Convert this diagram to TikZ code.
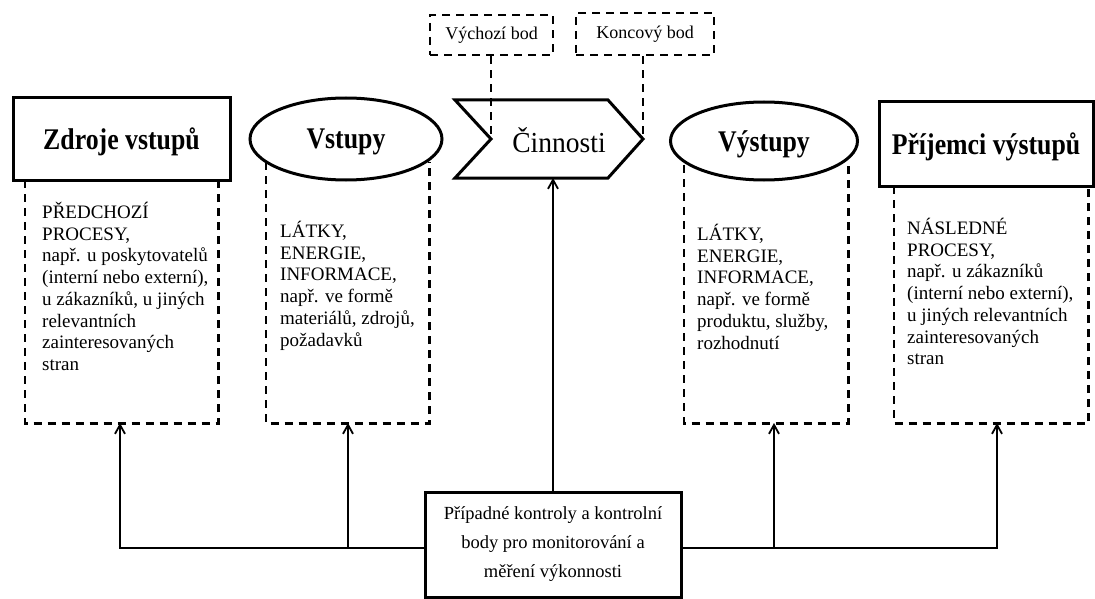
\documentclass[tikz,border=0pt]{standalone}
\usepackage{fontspec}
\setmainfont{Liberation Serif}
\newfontfamily\headfont[FakeStretch=0.86]{Liberation Serif}
\newfontfamily\actfont[FakeStretch=0.95]{Liberation Serif}
\usetikzlibrary{arrows.meta,shapes.geometric}

\begin{document}
\begin{tikzpicture}[x=1pt,y=-1pt,
  heavy/.style={line width=3pt},
  headtext/.style={font=\headfont\bfseries\fontsize{30}{34}\selectfont,text depth=0pt},
  solidbox/.style={draw,heavy,rectangle,inner sep=0pt,headtext},
  oval/.style={draw,heavy,ellipse,inner sep=0pt,headtext},
  dashbox/.style={line width=2.4pt,dash pattern=on 8pt off 6pt},
  tagbox/.style={draw,dashbox,rectangle,inner sep=0pt,font=\fontsize{18}{21}\selectfont},
  region/.style={rectangle,inner sep=0pt},
  bodytext/.style={anchor=north west,inner sep=0pt,align=left,font=\fontsize{19}{21.7}\selectfont},
  link/.style={line width=2pt},
  arr/.style={link,-{Straight Barb[length=9pt,width=10pt,line width=1.8pt]}}
]
\useasboundingbox (0,0) rectangle (1095,599);

% top headers
\node[solidbox,minimum width=217,minimum height=82] (src) at (121.5,139) {Zdroje vstupů};
\node[oval,minimum width=192,minimum height=82] (in) at (346,139) {Vstupy};
\node[oval,minimum width=187,minimum height=78] (out) at (764,141) {Výstupy};
\node[solidbox,minimum width=214,minimum height=84] (rcv) at (986,144) {Příjemci výstupů};

% activity chevron
\coordinate (c1) at (455,100);
\coordinate (c2) at (608,100);
\coordinate (tip) at (643,139);
\coordinate (c4) at (608,178);
\coordinate (c5) at (455,178);
\coordinate (notch) at (491,139);
\draw[heavy,line join=miter] (c1) -- (c2) -- (tip) -- (c4) -- (c5) -- (notch) -- cycle;
\node[font=\actfont\fontsize{29}{32}\selectfont] (act) at (559,140) {Činnosti};

% start / end point tags
\node[tagbox,minimum width=123,minimum height=40] (start) at (491.5,35) {Výchozí bod};
\node[tagbox,minimum width=138,minimum height=42] (end) at (645,34) {Koncový bod};
\draw[dashbox] (notch |- start.south) -- (notch);
\draw[dashbox] (tip |- end.south) -- (tip);

% dashed detail regions under the headers
\node[region,minimum width=193,minimum height=243,anchor=north west] (d1) at (25,180) {};
\node[region,minimum width=163,minimum height=261,anchor=north west] (d2) at (266,162) {};
\node[region,minimum width=164,minimum height=258,anchor=north west] (d3) at (684,165) {};
\node[region,minimum width=194,minimum height=237,anchor=north west] (d4) at (894,186) {};
\foreach \r in {d1,d2,d3,d4}
  \draw[dashbox] (\r.north west) -- (\r.south west) -- (\r.south east) -- (\r.north east);

\node[bodytext] (t1) at (42,202) {PŘEDCHOZÍ\\PROCESY,\\např. u poskytovatelů\\(interní nebo externí),\\u zákazníků, u jiných\\relevantních\\zainteresovaných\\stran};
\node[bodytext] (t2) at (280,221) {LÁTKY,\\ENERGIE,\\INFORMACE,\\např. ve formě\\materiálů, zdrojů,\\požadavků};
\node[bodytext] (t3) at (697,224) {LÁTKY,\\ENERGIE,\\INFORMACE,\\např. ve formě\\produktu, služby,\\rozhodnutí};
\node[bodytext] (t4) at (907,218) {NÁSLEDNÉ\\PROCESY,\\např. u zákazníků\\(interní nebo externí),\\u jiných relevantních\\zainteresovaných\\stran};

% control box and its connectors
\node[draw,heavy,rectangle,inner sep=0pt,minimum width=256,minimum height=105,align=center,
      font=\fontsize{18.5}{29}\selectfont] (ctrl) at (553,544.5)
  {Případné kontroly a kontrolní\\body pro monitorování a\\měření výkonnosti};

\coordinate (a1) at (120,423);
\coordinate (a2) at (348,423);
\coordinate (a3) at (774,423);
\coordinate (a4) at (997,423);
\coordinate (j2) at (348,548);
\coordinate (j3) at (774,548);

\draw[arr] (ctrl.west |- j2) -- (j2) -| (a1);
\draw[arr] (j2) -- (a2);
\draw[arr] (ctrl.east |- j3) -- (j3) -| (a4);
\draw[arr] (j3) -- (a3);
\draw[arr] (ctrl.north) -- (ctrl.north |- c5);
\end{tikzpicture}
\end{document}
